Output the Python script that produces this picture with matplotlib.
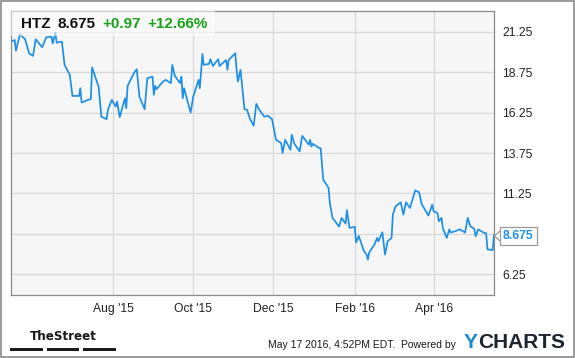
import matplotlib
matplotlib.use("Agg")
import matplotlib.pyplot as plt
from matplotlib.patches import Rectangle
import pandas as pd

dates = ["2015-05-15","2015-05-18","2015-05-19","2015-05-22","2015-05-26","2015-05-29",
         "2015-06-01","2015-06-03","2015-06-08","2015-06-11","2015-06-15","2015-06-16",
         "2015-06-18","2015-06-19","2015-06-22","2015-06-23","2015-06-25","2015-06-29",
         "2015-07-01","2015-07-06","2015-07-07","2015-07-08","2015-07-13","2015-07-15",
         "2015-07-16","2015-07-20","2015-07-21","2015-07-23","2015-07-27","2015-07-28",
         "2015-07-31","2015-08-03","2015-08-04","2015-08-06","2015-08-10","2015-08-11",
         "2015-08-12","2015-08-17","2015-08-19","2015-08-21","2015-08-25","2015-08-27",
         "2015-08-31","2015-09-01","2015-09-02","2015-09-03","2015-09-08","2015-09-10",
         "2015-09-14","2015-09-15","2015-09-17","2015-09-21","2015-09-22","2015-09-23",
         "2015-09-24","2015-09-29","2015-10-01","2015-10-05","2015-10-06","2015-10-08",
         "2015-10-09","2015-10-13","2015-10-14","2015-10-16","2015-10-20","2015-10-21",
         "2015-10-26","2015-10-27","2015-10-28","2015-11-02","2015-11-03","2015-11-04",
         "2015-11-06","2015-11-09","2015-11-11","2015-11-13","2015-11-16","2015-11-18",
         "2015-11-20","2015-11-24","2015-11-27","2015-11-30","2015-12-03","2015-12-07",
         "2015-12-08","2015-12-10","2015-12-14","2015-12-15","2015-12-17","2015-12-21",
         "2015-12-23","2015-12-28","2015-12-29","2015-12-30","2015-12-31","2016-01-05",
         "2016-01-06","2016-01-08","2016-01-12","2016-01-13","2016-01-15","2016-01-20",
         "2016-01-22","2016-01-25","2016-01-26","2016-01-28","2016-02-01","2016-02-02",
         "2016-02-04","2016-02-08","2016-02-10","2016-02-11","2016-02-12","2016-02-16",
         "2016-02-18","2016-02-19","2016-02-22","2016-02-24","2016-02-26","2016-02-29",
         "2016-03-01","2016-03-03","2016-03-07","2016-03-09","2016-03-11","2016-03-14",
         "2016-03-18","2016-03-21","2016-03-23","2016-03-24","2016-03-28","2016-03-31",
         "2016-04-01","2016-04-04","2016-04-05","2016-04-07","2016-04-08","2016-04-11",
         "2016-04-13","2016-04-14","2016-04-18","2016-04-21","2016-04-25","2016-04-27",
         "2016-04-29","2016-05-02","2016-05-03","2016-05-05","2016-05-09","2016-05-11",
         "2016-05-12","2016-05-16","2016-05-17"]

prices = [20.63,20.74,20.08,21.09,20.78,19.92,
          19.75,20.78,20.29,20.90,20.94,20.53,
          21.19,20.57,20.63,20.63,19.20,18.58,
          17.28,17.28,17.76,16.87,17.04,17.08,
          19.05,18.07,17.82,16.00,15.84,16.42,
          17.04,16.62,16.93,15.97,17.14,16.52,
          17.90,18.72,18.93,17.24,16.46,18.37,
          18.47,17.34,17.90,17.70,18.17,18.27,
          18.07,19.20,18.52,18.07,18.47,17.14,
          17.76,16.25,17.24,18.27,17.76,19.87,
          19.20,19.26,19.55,19.13,19.55,19.13,
          19.50,18.89,19.50,19.92,18.89,18.17,
          18.89,16.46,16.42,15.90,15.43,16.79,
          16.46,16.00,16.05,15.84,14.57,14.36,
          13.75,14.57,13.95,14.88,14.32,13.85,
          14.81,14.26,14.57,14.15,14.32,14.05,
          14.05,12.10,11.60,10.66,9.74,9.20,
          9.74,9.38,10.22,9.12,9.18,8.22,
          8.62,7.68,7.47,7.16,7.61,8.09,
          8.50,8.29,8.85,7.47,8.29,8.50,
          9.94,10.45,10.70,9.94,10.70,10.35,
          11.44,11.32,10.56,10.45,9.88,10.56,
          10.14,10.04,9.53,9.74,9.12,8.50,
          9.03,8.83,8.93,9.03,8.83,9.74,
          9.22,9.06,8.60,9.03,8.83,8.79,
          7.79,7.75,8.675]

y_ticks = [6.25, 8.75, 11.25, 13.75, 16.25, 18.75, 21.25]
y_tick_labels = ["6.25", "", "11.25", "13.75", "16.25", "18.75", "21.25"]
x_ticks = ["2015-08-01", "2015-10-01", "2015-12-01", "2016-02-01", "2016-04-01"]
x_tick_labels = ["Aug '15", "Oct '15", "Dec '15", "Feb '16", "Apr '16"]

ticker = "HTZ"
last_price = "8.675"
change = "+0.97"
change_pct = "+12.66%"

FONT = "Liberation Sans"
LINE_COLOR = "#1e8fe6"
GREEN = "#17a317"

x = pd.to_datetime(dates)

fig = plt.figure(figsize=(5.75, 3.58), dpi=100)
fig.patch.set_facecolor("white")
ax = fig.add_axes([10.7/575, 1 - 295/358, (494 - 10.7)/575, (295 - 10.7)/358])
ax.set_facecolor("#f6f6f6")

ax.plot(x, prices, color=LINE_COLOR, lw=1.25, zorder=3, solid_joinstyle="round")

ax.set_xlim(x[0], x[-1])
ax.set_ylim(4.97, 22.55)

ax.set_yticks(y_ticks)
ax.set_yticklabels(y_tick_labels)
ax.set_xticks(pd.to_datetime(x_ticks))
ax.set_xticklabels(x_tick_labels)
ax.yaxis.tick_right()
ax.tick_params(axis="both", length=0, labelsize=8.7, labelcolor="#222222")
ax.tick_params(axis="y", pad=6)
ax.tick_params(axis="x", pad=6)
for lab in ax.get_xticklabels() + ax.get_yticklabels():
    lab.set_fontfamily(FONT)

ax.grid(True, color="#d8d8d8", lw=0.9, zorder=1)
ax.set_axisbelow(True)
for s in ax.spines.values():
    s.set_color("#8a8a8a")
    s.set_linewidth(0.9)

# header box
ax.add_patch(Rectangle((0, 1 - 25.5/284.3), 204/483.3, 25.5/284.3, transform=ax.transAxes,
                       facecolor="white", alpha=0.55, edgecolor="none", zorder=4))
hy = 24.5
fig.text(21/575, 1 - hy/358, ticker, fontsize=11, family=FONT, weight="bold", color="#111111", va="center", ha="left")
fig.text(57/575, 1 - hy/358, last_price, fontsize=11, family=FONT, weight="bold", color="#111111", va="center", ha="left")
fig.text(102/575, 1 - hy/358, change, fontsize=11, family=FONT, weight="bold", color=GREEN, va="center", ha="left")
fig.text(147/575, 1 - hy/358, change_pct, fontsize=11, family=FONT, weight="bold", color=GREEN, va="center", ha="left")

# last value tag
tag_y = 1 - 236/358
fig.text(503/575, tag_y, last_price, fontsize=8.7, family=FONT, weight="bold", color=LINE_COLOR,
         va="center", ha="left",
         bbox=dict(boxstyle="square,pad=0.25", fc="white", ec="#9a9a9a", lw=0.9))
fig.lines.append(plt.Line2D([500/575, 494.5/575, 500/575],
                            [1 - 231/358, 1 - 236/358, 1 - 241/358],
                            transform=fig.transFigure, color="#9a9a9a", lw=0.9))

# footer
fig.text(63/575, 1 - 337/358, "TheStreet", fontsize=9.5, family="DejaVu Sans", stretch="condensed",
         weight="bold", color="#1a1a1a", va="center", ha="center")
for x0, x1 in [(10, 43), (47, 79), (83, 116)]:
    fig.patches.append(Rectangle((x0/575, 1 - 350.5/358), (x1 - x0)/575, 3/358,
                                 transform=fig.transFigure, facecolor="#1a1a1a", edgecolor="none"))
fig.text(268/575, 1 - 345/358, "May 17 2016, 4:52PM EDT.  Powered by", fontsize=7.5, family=FONT,
         color="#1a1a1a", va="center", ha="left")
fig.text(464/575, 1 - 342/358, "Y", fontsize=15, family=FONT, weight="bold", color="#1a8ad6",
         va="center", ha="left")
fig.text(478/575, 1 - 342/358, "CHARTS", fontsize=15, family=FONT, weight="bold", color="#1c2630",
         va="center", ha="left")

# outer border
fig.patches.append(Rectangle((1/575, 1 - 356.5/358), 572.5/575, 355.5/358, transform=fig.transFigure,
                             facecolor="none", edgecolor="#8a8a8a", lw=1.2))

fig.savefig("out.png", dpi=100)
